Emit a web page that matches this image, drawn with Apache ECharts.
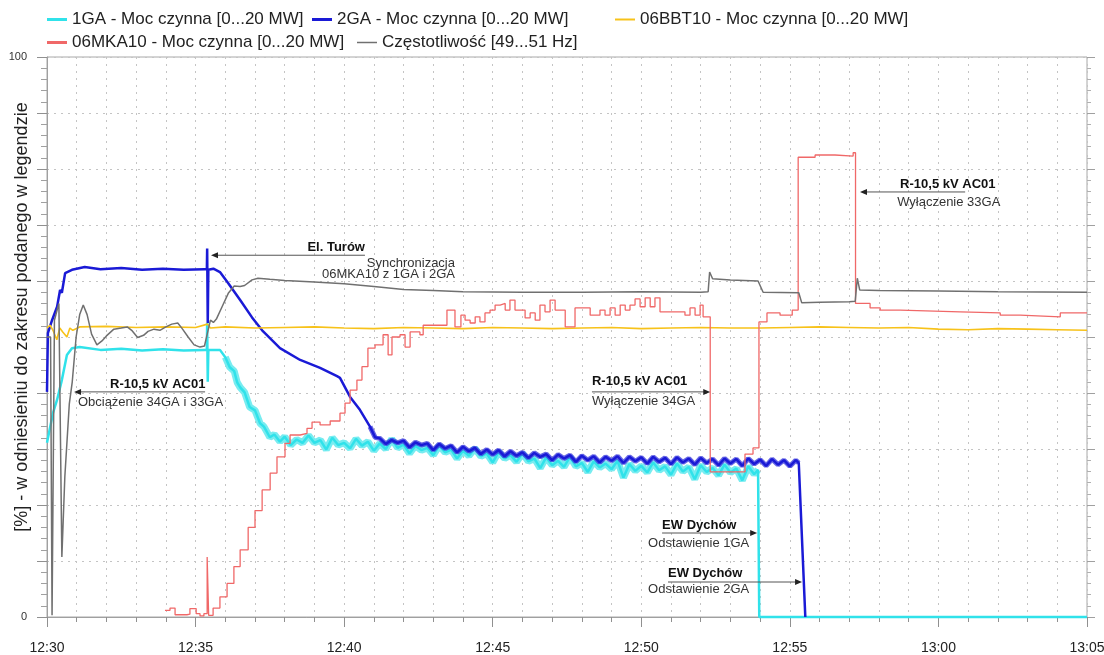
<!DOCTYPE html>
<html>
<head>
<meta charset="utf-8">
<title>Moc czynna i częstotliwość 12:30-13:05</title>
<script src="https://cdn.jsdelivr.net/npm/echarts@6.0.0/dist/echarts.min.js"></script>
<style>
  html, body { margin: 0; padding: 0; background: #fff; }
  #main { width: 1104px; height: 655px; }
</style>
</head>
<body>
<div id="main"></div>
<script>
// czas w minutach od 12:30, wartosci w % zakresu z legendy
var timeLabels = ['12:30', '12:35', '12:40', '12:45', '12:50', '12:55', '13:00', '13:05'];
var yLabels = ['0', '100'];

var names = [
  '1GA - Moc czynna [0...20 MW]',
  '2GA - Moc czynna [0...20 MW]',
  '06BBT10 - Moc czynna [0...20 MW]',
  '06MKA10 - Moc czynna [0...20 MW]',
  'Częstotliwość [49...51 Hz]'
];

var ga1 = [
  [0, 31.1], [0.2, 36.4], [0.34, 38.8], [0.5, 42.3], [0.67, 46.8], [0.84, 48.0], [1.1, 48.2],
  [1.8, 47.7], [2.5, 47.9], [3.2, 47.6], [3.9, 47.8], [4.6, 47.6], [5.3, 47.7], [5.38, 47.7],
  [5.39, 52.5], [5.41, 42.0], [5.43, 47.7], [5.82, 47.7], [6.0, 46.4], [6.15, 44.6], [6.3, 43.9],
  [6.4, 41.9], [6.5, 41.0], [6.65, 40.1], [6.82, 37.5], [7.0, 36.9], [7.17, 34.6], [7.3, 34.0],
  [7.5, 32.1], [7.65, 32.6], [7.84, 31.3],
  [8.0, 32.2], [8.2, 30.7], [8.4, 31.7], [8.6, 31.1], [8.8, 32.4], [9.0, 31.1], [9.2, 31.6],
  [9.4, 29.9], [9.6, 32.0], [9.8, 30.7], [10.0, 31.1], [10.2, 30.1], [10.4, 31.8], [10.6, 30.6],
  [10.8, 31.3], [11.0, 29.7], [11.2, 31.0], [11.4, 30.0], [11.6, 31.8], [11.8, 30.2], [12.0, 30.8],
  [12.2, 29.2], [12.4, 30.6], [12.6, 29.8], [12.8, 30.2], [13.0, 28.9], [13.2, 30.6], [13.4, 29.4],
  [13.6, 29.9], [13.8, 28.3], [14.0, 29.7], [14.2, 28.8], [14.4, 30.1], [14.6, 28.7], [14.8, 29.2],
  [15.0, 27.6], [15.2, 29.5], [15.4, 28.3], [15.6, 28.9], [15.8, 27.7], [16.0, 29.2], [16.2, 27.8],
  [16.4, 28.3], [16.6, 26.6], [16.8, 28.5], [17.0, 27.1], [17.2, 27.9], [17.4, 26.8], [17.6, 28.6],
  [17.8, 26.9], [18.0, 27.5], [18.2, 25.9], [18.4, 27.8], [18.6, 26.7], [18.8, 27.4], [19.0, 26.4],
  [19.2, 27.9], [19.4, 24.9], [19.6, 27.3], [19.8, 26.1], [20.0, 27.0], [20.2, 25.8], [20.4, 27.6],
  [20.6, 26.2], [20.8, 26.9], [21.0, 25.4], [21.2, 27.4], [21.4, 26.0], [21.6, 26.8], [21.8, 24.6],
  [22.0, 27.1], [22.2, 25.9], [22.4, 26.6], [22.6, 25.3], [22.8, 27.2], [23.0, 25.8], [23.2, 26.5],
  [23.4, 24.4], [23.6, 26.9], [23.8, 25.5], [23.93, 26.3], [23.97, 0], [35, 0]
];

var ga2 = [
  [0, 40.2], [0.03, 50.7], [0.17, 53.0], [0.34, 55.4], [0.44, 58.4], [0.5, 57.9], [0.61, 61.4],
  [0.67, 61.6], [0.84, 62.0], [1.27, 62.5], [1.8, 62.1], [2.5, 62.3], [3.2, 62.0], [3.9, 62.2],
  [4.6, 62.0], [5.3, 62.1], [5.38, 62.1], [5.39, 65.8], [5.41, 52.5], [5.43, 62.0], [5.6, 62.2],
  [5.82, 61.6], [6.1, 59.6], [6.5, 56.6], [6.9, 53.5], [7.24, 51.2], [7.84, 48.0], [8.52, 45.9],
  [9.19, 44.5], [9.76, 43.0], [9.86, 42.7], [10.2, 39.3], [10.53, 37.0], [10.87, 34.0], [11.04, 32.1],
  [11.2, 31.9], [11.4, 30.9], [11.6, 31.6], [11.8, 31.1], [12.0, 31.5], [12.2, 30.3], [12.4, 31.2],
  [12.6, 30.7], [12.8, 31.0], [13.0, 29.8], [13.2, 30.9], [13.4, 30.1], [13.6, 30.6], [13.8, 29.4],
  [14.0, 30.4], [14.2, 29.6], [14.4, 30.2], [14.6, 29.1], [14.8, 29.9], [15.0, 29.0], [15.2, 29.8],
  [15.4, 28.7], [15.6, 29.6], [15.8, 28.8], [16.0, 29.4], [16.2, 28.4], [16.4, 29.3], [16.6, 28.6],
  [16.8, 29.1], [17.0, 28.0], [17.2, 29.0], [17.4, 28.3], [17.6, 28.9], [17.8, 27.7], [18.0, 28.8],
  [18.2, 28.0], [18.4, 28.7], [18.6, 27.6], [18.8, 28.6], [19.0, 27.9], [19.2, 28.7], [19.4, 27.5],
  [19.6, 28.6], [19.8, 27.8], [20.0, 28.5], [20.2, 27.4], [20.4, 28.6], [20.6, 27.7], [20.8, 28.4],
  [21.0, 27.3], [21.2, 28.5], [21.4, 27.6], [21.6, 28.3], [21.8, 27.2], [22.0, 28.4], [22.2, 27.5],
  [22.4, 28.2], [22.6, 27.1], [22.8, 28.3], [23.0, 27.4], [23.2, 28.2], [23.4, 27.0], [23.6, 28.3],
  [23.8, 27.3], [24.0, 28.1], [24.2, 27.0], [24.4, 28.2], [24.6, 27.2], [24.8, 28.0], [25.0, 26.9],
  [25.2, 28.0], [25.3, 27.5], [25.52, 0]
];

var bbt10 = [
  [0, 51.6], [0.1, 52.1], [0.2, 51.2], [0.33, 49.5], [0.43, 51.6], [0.53, 50.9], [0.67, 50.0],
  [0.77, 51.6], [0.87, 51.2], [1.1, 51.8], [2.0, 51.9], [3.0, 51.7], [4.0, 51.8], [5.0, 51.7],
  [5.4, 52.3], [5.5, 51.6], [6.0, 51.8], [7.0, 51.6], [8.0, 51.7], [9.0, 51.8], [10.0, 51.6],
  [11.0, 51.5], [12.0, 51.7], [13.0, 51.6], [14.0, 51.5], [15.0, 51.7], [16.0, 51.6], [17.0, 51.5],
  [18.0, 51.6], [19.0, 51.7], [20.0, 51.5], [21.0, 51.6], [22.0, 51.7], [23.0, 51.6], [24.0, 51.6],
  [25.0, 51.7], [26.0, 51.8], [27.0, 51.7], [28.0, 51.6], [29.0, 51.7], [30.0, 51.4], [31.0, 51.3],
  [32.0, 51.5], [33.0, 51.4], [34.0, 51.3], [35.0, 51.2]
];

// schodki: [poczatek poziomu, wartosc]
var mka10 = [
  [3.97, 1.2], [4.14, 1.6], [4.31, 0.4], [4.71, 0.5], [4.81, 1.5], [5.02, 0.6], [5.15, 0.2],
  [5.28, 0.6], [5.39, 10.7], [5.44, 0.3], [5.59, 1.6], [5.82, 3.6], [6.06, 6.0], [6.29, 9.0],
  [6.5, 12.0], [6.77, 16.0], [7.0, 19.0], [7.24, 22.7], [7.51, 25.7], [7.74, 28.6], [8.01, 31.0],
  [8.18, 32.5], [8.52, 32.8], [8.75, 33.7], [8.92, 34.8], [9.19, 34.3], [9.53, 35.0], [9.86, 36.4],
  [10.03, 38.2], [10.2, 40.5], [10.43, 42.3], [10.6, 44.7], [10.8, 48.0], [11.04, 48.6], [11.31, 50.4],
  [11.48, 46.8], [11.61, 50.0], [11.88, 50.4], [12.05, 48.2], [12.22, 50.9], [12.55, 50.4], [12.66, 52.1],
  [13.46, 54.8], [13.73, 51.8], [13.93, 53.9], [14.07, 53.0], [14.24, 52.5], [14.41, 53.6], [14.57, 52.7],
  [14.74, 54.3], [14.91, 54.8], [15.08, 55.7], [15.25, 56.0], [15.42, 54.8], [15.58, 56.6], [15.75, 54.8],
  [16.09, 53.4], [16.26, 54.3], [16.43, 53.0], [16.59, 55.7], [16.76, 54.5], [16.93, 56.6], [17.1, 54.8],
  [17.44, 51.8], [17.77, 55.2], [18.28, 53.9], [18.61, 54.8], [18.78, 53.9], [18.95, 55.2], [19.12, 53.9],
  [19.29, 55.7], [19.46, 54.8], [19.62, 55.7], [19.79, 56.8], [19.96, 55.4], [20.13, 57.0], [20.3, 55.4],
  [20.46, 57.0], [20.63, 54.5], [21.47, 53.9], [21.64, 55.2], [21.81, 53.9], [21.98, 55.7], [22.08, 53.6],
  [22.32, 25.9], [23.49, 29.1], [23.76, 30.2], [23.96, 52.7], [24.23, 54.3], [24.67, 53.9], [25.08, 54.8],
  [25.28, 82.1], [25.85, 82.5], [26.52, 82.3], [27.13, 82.9], [27.21, 56.0], [27.7, 55.2], [28.04, 54.8],
  [28.71, 54.5], [30.73, 54.3], [32.08, 53.9], [32.75, 53.6], [34.1, 54.3], [35.0, 54.3]
];

var freq = [
  [0, 50.0], [0.12, 50.0], [0.17, 0.3], [0.25, 53.0], [0.4, 56.0], [0.5, 10.7], [0.6, 25.0],
  [0.75, 38.0], [0.85, 42.0], [0.98, 50.0], [1.1, 54.0], [1.22, 55.7], [1.35, 54.0], [1.5, 50.5],
  [1.68, 48.6], [1.85, 49.3], [2.0, 50.2], [2.25, 51.4], [2.5, 51.6], [2.7, 51.8], [2.85, 51.2],
  [3.05, 49.9], [3.25, 50.3], [3.4, 51.0], [3.6, 51.4], [3.8, 51.2], [4.0, 51.8], [4.2, 52.3],
  [4.4, 52.5], [4.55, 51.5], [4.75, 50.0], [4.95, 48.6], [5.15, 48.2], [5.3, 48.4], [5.5, 53.0],
  [5.6, 52.6], [5.7, 53.2], [5.9, 55.5], [6.1, 57.8], [6.3, 59.1], [6.5, 59.0], [6.65, 59.2],
  [6.9, 60.2], [7.1, 60.5], [7.5, 60.3], [8.0, 60.1], [9.0, 59.8], [10.0, 59.5], [11.0, 59.0],
  [12.0, 58.5], [13.0, 58.3], [14.0, 58.1], [16.0, 58.0], [18.0, 58.0], [20.0, 58.1], [22.0, 58.0],
  [22.25, 58.1], [22.3, 61.6], [22.4, 60.4], [23.0, 60.2], [23.93, 60.0], [24.1, 58.0], [25.3, 57.9],
  [25.4, 56.1], [26.0, 56.2], [27.0, 56.3], [27.2, 56.4], [27.27, 60.5], [27.35, 58.4], [28.0, 58.3],
  [30.0, 58.2], [32.0, 58.1], [35.0, 58.0]
];

// opisy zdarzen (wspolrzedne w jednostkach wykresu)
var notes = [
  { text: 'El. Turów', at: [10.70, 66.0], align: 'right', bold: true },
  { text: 'Synchronizacja', at: [13.73, 63.2], align: 'right' },
  { text: '06MKA10 z 1GA i 2GA', at: [13.73, 61.2], align: 'right' },
  { text: 'R-10,5 kV AC01', at: [2.12, 41.6], align: 'left', bold: true },
  { text: 'Obciążenie 34GA i 33GA', at: [1.04, 38.3], align: 'left' },
  { text: 'R-10,5 kV AC01', at: [18.34, 42.0], align: 'left', bold: true },
  { text: 'Wyłączenie 34GA', at: [18.34, 38.45], align: 'left' },
  { text: 'EW Dychów', at: [20.70, 16.3], align: 'left', bold: true },
  { text: 'Odstawienie 1GA', at: [20.23, 13.1], align: 'left' },
  { text: 'EW Dychów', at: [20.90, 7.7], align: 'left', bold: true },
  { text: 'Odstawienie 2GA', at: [20.23, 4.9], align: 'left' },
  { text: 'R-10,5 kV AC01', at: [28.71, 77.3], align: 'left', bold: true },
  { text: 'Wyłączenie 33GA', at: [28.61, 74.0], align: 'left' }
];
var arrows = [
  { from: [10.70, 64.6], to: [5.52, 64.6] },
  { from: [5.32, 40.2], to: [0.91, 40.2] },
  { from: [18.34, 40.2], to: [22.32, 40.2] },
  { from: [20.70, 15.0], to: [23.90, 15.0] },
  { from: [20.90, 6.25], to: [25.41, 6.25] },
  { from: [30.90, 75.9], to: [27.36, 75.9] }
];

// odcinki z szumem - szersze pasmo pod linia
var ga1Noisy = ga1.filter(function (p) { return p[0] >= 6.0 && p[0] <= 23.93; });
var ga2Noisy = ga2.filter(function (p) { return p[0] >= 10.87 && p[0] <= 25.3; });

var chart = echarts.init(document.getElementById('main'));

var dotted = { color: '#c4c4c4', width: 1, type: [2, 5] };
var font = '"Liberation Sans", Arial, sans-serif';

function legendAt(name, left, top, h) {
  return {
    data: [name], left: left, top: top, padding: 0,
    icon: 'rect', itemWidth: 20, itemHeight: h, itemGap: 0,
    textStyle: { fontSize: 17, color: '#222', fontFamily: font }
  };
}

var option = {
  animation: false,
  backgroundColor: '#fff',
  legend: [
    legendAt(names[0], 47, 11, 3),
    legendAt(names[1], 312, 11, 3),
    legendAt(names[2], 615, 11, 2),
    legendAt(names[3], 47, 34, 3),
    legendAt(names[4], 357, 34, 1.5)
  ],
  grid: {
    left: 47, right: 17, top: 57, bottom: 38,
    containLabel: false, outerBoundsMode: 'none',
    show: true, borderColor: '#a8a8a8', borderWidth: 1
  },
  xAxis: {
    type: 'value', min: 0, max: 35, interval: 5,
    axisLine: { show: true, lineStyle: { color: '#a0a0a0' } },
    axisTick: { show: true, length: 10, lineStyle: { color: '#909090' } },
    minorTick: { show: true, splitNumber: 5, length: 5, lineStyle: { color: '#909090' } },
    splitLine: { show: true, lineStyle: dotted },
    minorSplitLine: { show: true, lineStyle: dotted },
    axisLabel: {
      margin: 24, fontSize: 14, color: '#222', fontFamily: font,
      formatter: function (v) { return timeLabels[Math.round(v / 5)]; }
    }
  },
  yAxis: [{
    type: 'value', min: 0, max: 100, interval: 10,
    name: '[%] - w odniesieniu do zakresu podanego w legendzie',
    nameLocation: 'middle', nameGap: 16, nameMoveOverlap: false,
    nameTextStyle: { fontSize: 18, color: '#222', fontFamily: font, padding: [0, 0, 0, 40] },
    axisLine: { show: true, lineStyle: { color: '#a0a0a0' } },
    axisTick: { show: true, length: 10, lineStyle: { color: '#909090' } },
    minorTick: { show: true, splitNumber: 5, length: 6, lineStyle: { color: '#a0a0a0' } },
    splitLine: { show: true, lineStyle: dotted },
    axisLabel: {
      margin: 20, fontSize: 11, color: '#333', fontFamily: font,
      formatter: function (v) { return v === 0 ? yLabels[0] : (v === 100 ? yLabels[1] : ''); }
    }
  }, {
    type: 'value', min: 0, max: 100, interval: 10, position: 'right',
    axisLine: { show: false },
    axisTick: { show: true, length: 8, lineStyle: { color: '#a0a0a0' } },
    minorTick: { show: true, splitNumber: 5, length: 4, lineStyle: { color: '#b0b0b0' } },
    splitLine: { show: false },
    axisLabel: { show: false }
  }],
  series: [
    { name: names[0], type: 'line', data: ga1Noisy, symbol: 'none', clip: false, color: '#30e2ea',
      lineStyle: { width: 7, color: '#78ecf0' } },
    { name: names[0], type: 'line', data: ga1, symbol: 'none', clip: false, color: '#30e2ea',
      lineStyle: { width: 2.5, color: '#30e2ea' } },
    { name: names[1], type: 'line', data: ga2Noisy, symbol: 'none', clip: false, color: '#1a1ad6',
      lineStyle: { width: 5, color: '#3434dc', opacity: 0.75 } },
    { name: names[1], type: 'line', data: ga2, symbol: 'none', clip: false, color: '#1a1ad6',
      lineStyle: { width: 2.5, color: '#1a1ad6' } },
    { name: names[2], type: 'line', data: bbt10, symbol: 'none', clip: false, color: '#f7c21a',
      lineStyle: { width: 1.6, color: '#f7c21a' } },
    { name: names[3], type: 'line', data: mka10, step: 'end', symbol: 'none', clip: false, color: '#f06868',
      lineStyle: { width: 1.3, color: '#f06868' } },
    { name: names[4], type: 'line', data: freq, symbol: 'none', clip: false, color: '#707070',
      lineStyle: { width: 1.5, color: '#707070' } }
  ]
};

chart.setOption(option);

// opisy i strzalki przeliczone ze wspolrzednych wykresu
var g = [];
notes.forEach(function (n) {
  var p = chart.convertToPixel({ gridIndex: 0 }, n.at);
  g.push({
    type: 'text', x: p[0], y: p[1], z: 100,
    style: {
      text: n.text, fill: n.bold ? '#111' : '#333',
      font: (n.bold ? 'bold ' : '') + '13px ' + font,
      align: n.align, verticalAlign: 'middle'
    }
  });
});
arrows.forEach(function (a) {
  var p1 = chart.convertToPixel({ gridIndex: 0 }, a.from);
  var p2 = chart.convertToPixel({ gridIndex: 0 }, a.to);
  var d = p2[0] > p1[0] ? 1 : -1;
  g.push({
    type: 'line', z: 100,
    shape: { x1: p1[0], y1: p1[1], x2: p2[0] - d * 3, y2: p2[1] },
    style: { stroke: '#555', lineWidth: 1 }
  });
  g.push({
    type: 'polygon', z: 100,
    shape: { points: [[p2[0], p2[1]], [p2[0] - d * 7, p2[1] - 3], [p2[0] - d * 7, p2[1] + 3]] },
    style: { fill: '#222' }
  });
});
chart.setOption({ graphic: g });
</script>
</body>
</html>
